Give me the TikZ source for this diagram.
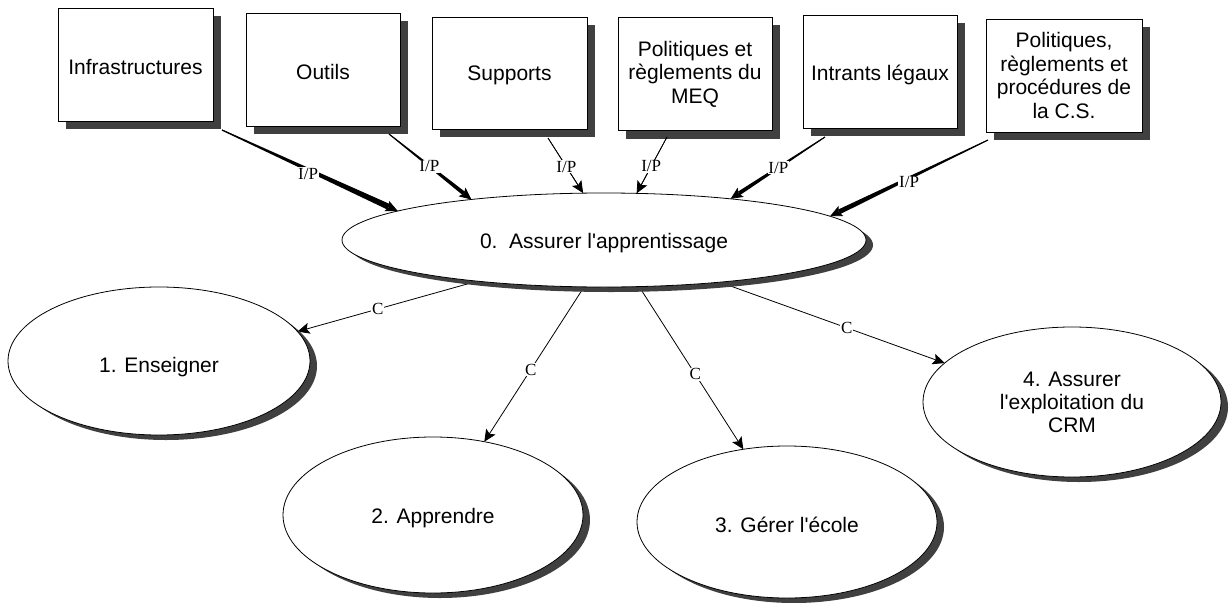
\documentclass[tikz,border=0pt]{standalone}
\usepackage{fontspec}
\setmainfont{Liberation Sans}
\newfontfamily\lblfont{Liberation Serif}
\usetikzlibrary{calc,shadows,shapes.geometric,arrows.meta}
\pgfdeclarelayer{background}
\pgfsetlayers{background,main}
\definecolor{shgray}{HTML}{404040}
\newcommand\ipconn[5]{%
  \coordinate (#1w) at ($(#2)!10pt!(#1)$);
  \fill ($(#1)!#3!90:(#2)$) -- ($(#1)!#3!-90:(#2)$) -- ($(#1w)!#4!90:(#1)$) -- ($(#1w)!#4!-90:(#1)$) -- cycle;
  \draw[conn] (#1) -- (#2) node[lbl, #5] {I/P};
}
\newcommand\lowertxt[2]{\raisebox{-#1}[\height][\depth]{#2}}
\begin{document}
\begin{tikzpicture}[x=1pt,y=-1pt,
  box/.style={draw=black, line width=0.8pt, fill=white, minimum width=155pt, minimum height=113pt,
    inner sep=0pt, outer sep=0pt, align=center, font=\fontsize{21}{23.5}\selectfont,
    drop shadow={shadow xshift=8pt, shadow yshift=-8pt, fill=shgray, opacity=1}},
  proc/.style={ellipse, draw=black, line width=0.8pt, fill=white, inner sep=0pt, outer sep=0pt,
    align=center, font=\fontsize{21}{23}\selectfont,
    drop shadow={shadow xshift=7pt, shadow yshift=-5pt, fill=shgray, opacity=1}},
  lbl/.style={fill=white, inner sep=0.8pt, font=\lblfont\fontsize{17}{17}\selectfont},
  conn/.style={draw=black, line width=0.8pt, -{Stealth[length=12pt,width=11pt,inset=2.5pt]}},
  ]
\useasboundingbox (0,0) rectangle (1230,602);

% boxes
\node[box] (b1) at (135.5,64.5) {\lowertxt{3pt}{Infrastructures}};
\node[box, minimum width=154pt] (b2) at (323,69.5) {\lowertxt{2pt}{Outils}};
\node[box, minimum height=112pt] (b3) at (509.5,73) {\lowertxt{2pt}{Supports}};
\node[box, minimum width=154pt] (b4) at (695,74) {Politiques et\\règlements du\\MEQ};
\node[box, minimum width=154pt] (b5) at (880,71.5) {\lowertxt{3pt}{Intrants légaux}};
\node[box, minimum width=156pt] (b6) at (1064,75.5) {Politiques,\\règlements et\\procédures de\\la C.S.};

% processes
\node[proc, minimum width=524pt, minimum height=94pt] (e0) at (604,240) {\lowertxt{3pt}{0.\ \ Assurer l\textquotesingle apprentissage}};
\node[proc, minimum width=302pt, minimum height=148pt] (e1) at (159,361) {\lowertxt{6pt}{1. Enseigner}};
\node[proc, minimum width=300pt, minimum height=156pt] (e2) at (433,515) {\lowertxt{3pt}{2. Apprendre}};
\node[proc, minimum width=300pt, minimum height=152pt] (e3) at (787,522) {\lowertxt{3pt}{3. Gérer l\textquotesingle école}};
\node[proc, minimum width=298pt, minimum height=150pt] (e4) at (1072,402) {4. Assurer\\l\textquotesingle exploitation du\\CRM};

% connector ends
\coordinate (s1) at ($(b1.south east)+(9,9)$);
\coordinate (s2) at ($(b2.south east)+(-11,8)$);
\coordinate (s3) at ($(b3.south)+(38.5,9)$);
\coordinate (s4) at ($(b4.south)+(-28,6.5)$);
\coordinate (s5) at ($(b5.south west)+(22,9)$);
\coordinate (s6) at ($(b6.south west)+(2,8)$);
\coordinate (t1) at (e0.172);
\coordinate (t2) at (e0.163);
\coordinate (t3) at (e0.114);
\coordinate (t4) at (e0.55);
\coordinate (t5) at (e0.18);
\coordinate (t6) at (e0.6);

% I/P connectors
\ipconn{s1}{t1}{0.6pt}{3pt}{pos=0.49, yshift=-4pt}
\ipconn{s2}{t2}{0.5pt}{2pt}{pos=0.49}
\ipconn{s3}{t3}{0.3pt}{0.4pt}{pos=0.52}
\ipconn{s4}{t4}{0.3pt}{0.4pt}{pos=0.52}
\ipconn{s5}{t5}{0.5pt}{2pt}{pos=0.495}
\ipconn{s6}{t6}{0.5pt}{2.5pt}{pos=0.5, yshift=-4pt}

% C connectors
\begin{pgfonlayer}{background}
\draw[conn] (e0.198) -- (e1.12) node[lbl, pos=0.554] {C};
\draw[conn] (e0.247) -- (e2.55) node[lbl, pos=0.535] {C};
\draw[conn] (e0.307) -- (e3.121) node[lbl, pos=0.54] {C};
\draw[conn] (e0.340) -- (e4.163) node[lbl, pos=0.565] {C};
\end{pgfonlayer}
\end{tikzpicture}
\end{document}
